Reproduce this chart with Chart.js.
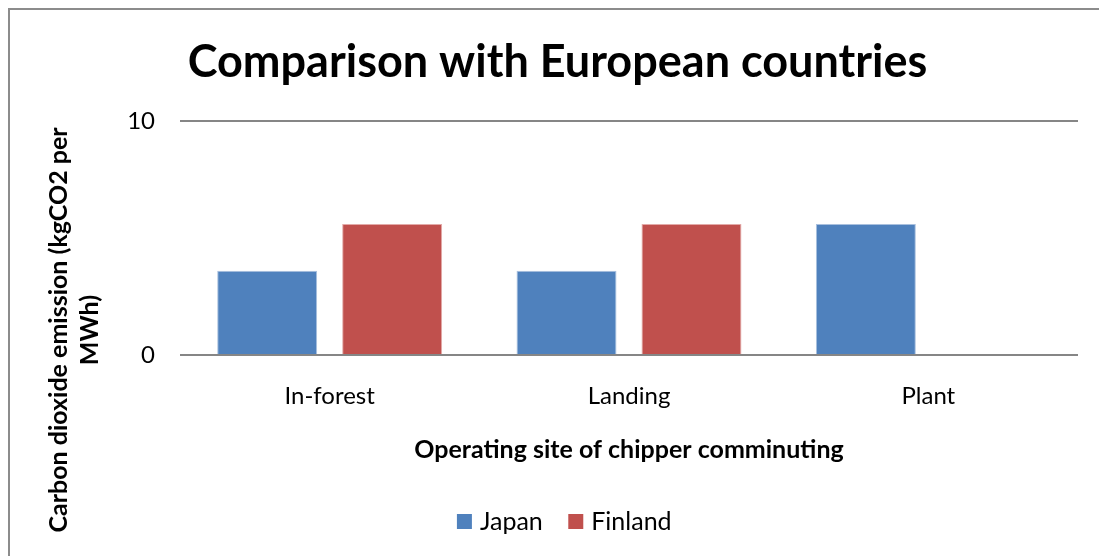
<!DOCTYPE html>
<html>
<head>
<meta charset="utf-8">
<title>Comparison with European countries</title>
<script src="https://cdn.jsdelivr.net/npm/chart.js@4.4.0/dist/chart.umd.min.js"></script>
<style>
  html, body { margin: 0; padding: 0; background: #fff; overflow: hidden; }
  canvas { display: block; }
</style>
</head>
<body>
<canvas id="chart" width="1099" height="556"></canvas>
<script>
// kgCO2 per MWh by operating site
const sites = ["In-forest", "Landing", "Plant"];
const japan = [3.6, 3.6, 5.6];
const finland = [5.6, 5.6, null];
const yTicks = [0, 10];
const yTitle = ["Carbon dioxide emission (kgCO2 per", "MWh)"];

Chart.defaults.font.family = "Lato";
Chart.defaults.color = "#000";

// outer frame: only the top and left edges fall inside the canvas
const framePlugin = {
  id: "frame",
  beforeDraw(chart) {
    const c = chart.ctx;
    c.save();
    c.strokeStyle = "#8c8c8c";
    c.lineWidth = 2;
    c.beginPath();
    c.moveTo(9, chart.height);
    c.lineTo(9, 9);
    c.lineTo(chart.width, 9);
    c.stroke();
    c.restore();
  },
};

// rotated two-line y title, centred on the whole figure rather than the axis
const yTitlePlugin = {
  id: "yTitle",
  afterDraw(chart) {
    const c = chart.ctx;
    c.save();
    c.translate(59, 330);
    c.rotate(-Math.PI / 2);
    c.font = "bold 25px Lato";
    c.fillStyle = "#000";
    c.textAlign = "center";
    c.textBaseline = "middle";
    yTitle.forEach((line, i) => c.fillText(line, 0, i * 31));
    c.restore();
  },
};

// nudge the legend a little right of the page centre
const legendShift = {
  id: "legendShift",
  afterLayout(chart) {
    chart.legend.left += 9;
    chart.legend.right += 9;
  },
};

// small box + thick stroke in the same colour: a 15px square sitting close to its text
const legendLabels = (chart) =>
  Chart.defaults.plugins.legend.labels
    .generateLabels(chart)
    .map((item) => ({ ...item, strokeStyle: item.fillStyle, lineWidth: 9 }));

new Chart(document.getElementById("chart"), {
  type: "bar",
  data: {
    labels: sites,
    datasets: [
      {
        label: "Japan",
        data: japan,
        backgroundColor: "#4f81bd",
        borderColor: "#a9c0de",
        borderWidth: 1,
      },
      {
        label: "Finland",
        data: finland,
        backgroundColor: "#c0504d",
        borderColor: "#e3aaa8",
        borderWidth: 1,
      },
    ],
  },
  options: {
    responsive: false,
    animation: false,
    categoryPercentage: 0.835,
    barPercentage: 0.8,
    layout: { padding: { left: 37, right: 21, top: 0, bottom: 12 } },
    plugins: {
      title: {
        display: true,
        text: "Comparison with European countries",
        font: { size: 45, weight: "bold" },
        color: "#000",
        padding: { top: 35, bottom: 32 },
      },
      legend: {
        position: "bottom",
        labels: {
          boxWidth: 6,
          boxHeight: 6,
          padding: 30,
          font: { size: 25 },
          color: "#000",
          generateLabels: legendLabels,
        },
      },
      tooltip: { enabled: false },
    },
    scales: {
      x: {
        grid: { display: false },
        border: { display: false },
        ticks: { font: { size: 24 }, padding: 19 },
        title: {
          display: true,
          text: "Operating site of chipper comminuting",
          font: { size: 25, weight: "bold" },
          padding: { top: 0, bottom: 14 },
        },
        afterFit(scale) {
          scale.height = 124;
        },
      },
      y: {
        min: yTicks[0],
        max: yTicks[yTicks.length - 1],
        afterBuildTicks(scale) {
          scale.ticks = yTicks.map((v) => ({ value: v }));
        },
        grid: { color: "#868686", lineWidth: 2, drawTicks: false },
        border: { display: false },
        ticks: { font: { size: 24 }, padding: 25 },
        afterFit(scale) {
          scale.width = 143;
        },
      },
    },
  },
  plugins: [framePlugin, yTitlePlugin, legendShift],
});
</script>
</body>
</html>
